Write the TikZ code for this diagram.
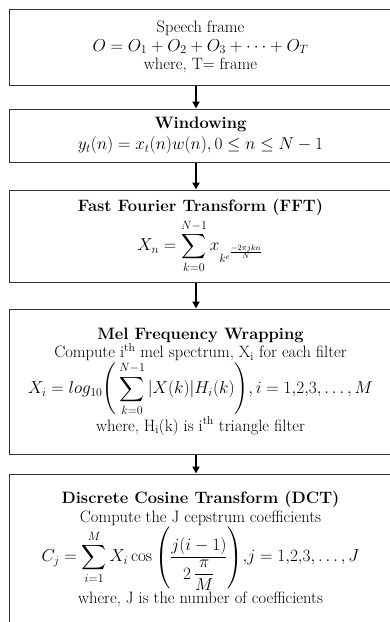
\documentclass[tikz,border=0pt]{standalone}
\usepackage{amsmath}
\usetikzlibrary{arrows.meta}

\begin{document}
\begin{tikzpicture}[
		x=1pt, y=-1pt,
		font=\fontsize{16.5}{18.5}\selectfont,
		stage/.style={draw=black!80, line width=1pt, minimum width=383pt,
			align=center, inner sep=0pt},
		arr/.style={-{Triangle[length=7pt,width=7pt]}, line width=1.8pt},
	]
		\useasboundingbox (0,0) rectangle (390,622);
		\clip (0,0) rectangle (390,622);

		% Stufen mit absoluten Koordinaten (von oben nach unten)
		\node[stage, minimum height=76pt] (frame) at (200.5,47)
			{Speech frame\\
			 $O = O_1 + O_2 + O_3 + \cdots + O_T$\\
			 where, T= frame};
		\node[stage, minimum height=53pt] (win) at (200.5,135.5)
			{\textbf{Windowing}\\[3pt]
			 $y_t(n) = x_t(n)w(n), 0 \le n \le N-1$};
		\node[stage, minimum height=92pt] (fft) at (200.5,236)
			{\textbf{Fast Fourier Transform (FFT)}\\[3pt]
			 $\displaystyle X_n = \sum_{k=0}^{N-1} x_{k^{e^{\frac{-2\pi jkn}{N}}}}$};
		\node[stage, minimum height=145pt] (mel) at (200.5,381.5)
			{\textbf{Mel Frequency Wrapping}\\
			 Compute i\textsuperscript{th} mel spectrum, X\textsubscript{i} for each filter\\[0pt]
			 $\displaystyle X_i = log_{10}\Bigg(\sum_{k=0}^{N-1}|X(k)|H_i(k)\Bigg), i = 1{,}2{,}3, \dots, M$\\[0pt]
			 where, H\textsubscript{i}(k) is i\textsuperscript{th} triangle filter};
		\node[stage, minimum height=150pt] (dct) at (200.5,549)
			{\textbf{Discrete Cosine Transform (DCT)}\\
			 Compute the J cepstrum coefficients\\[0pt]
			 $\displaystyle C_j = \sum_{i=1}^{M} X_i \cos\left(\frac{j(i-1)}{2\,\dfrac{\pi}{M}}\right)\!{,}j = 1{,}2{,}3, \dots, J$\\[0pt]
			 where, J is the number of coefficients};

		% Verbindungen zwischen den Stufen
		\draw[arr] ([xshift=-4.5pt]frame.south) -- ([xshift=-4.5pt]win.north);
		\draw[arr] ([xshift=-4.5pt]win.south) -- ([xshift=-4.5pt]fft.north);
		\draw[arr] ([xshift=-4.5pt]fft.south) -- ([xshift=-4.5pt]mel.north);
		\draw[arr] ([xshift=-4.5pt]mel.south) -- ([xshift=-4.5pt]dct.north);
	\end{tikzpicture}
\end{document}
